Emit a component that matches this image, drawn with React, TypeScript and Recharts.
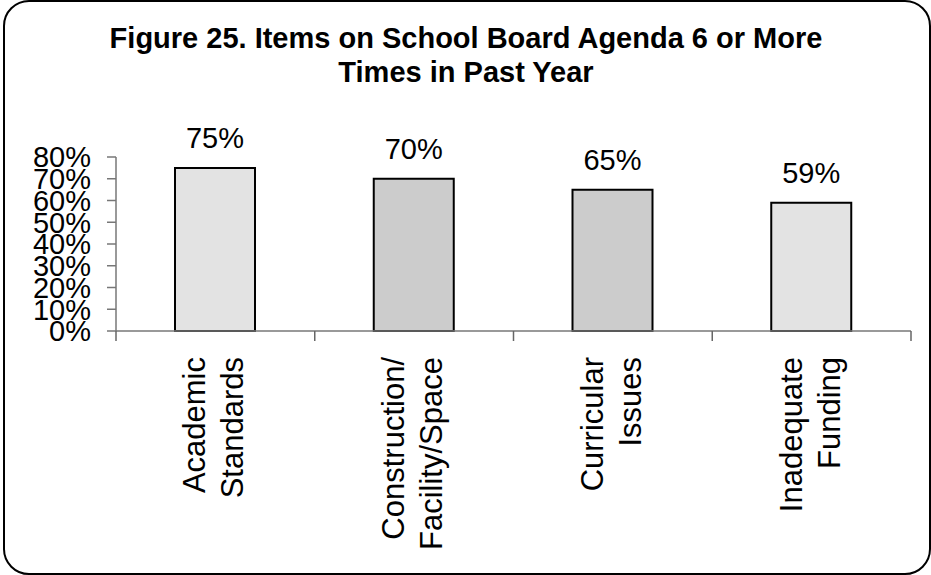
import React from "react";
import { BarChart, Bar, XAxis, YAxis, Cell, LabelList } from "recharts";

const categories = ["Academic Standards", "Construction/ Facility/Space", "Curricular Issues", "Inadequate Funding"];
const labelLines = [
  ["Academic", "Standards"],
  ["Construction/", "Facility/Space"],
  ["Curricular", "Issues"],
  ["Inadequate", "Funding"],
];
const percentages = [75, 70, 65, 59];
const yTicks = [0, 10, 20, 30, 40, 50, 60, 70, 80];
const barFills = ["#e3e3e3", "#cccccc", "#cccccc", "#e3e3e3"];

const FONT = '"Liberation Sans", Arial, sans-serif';

const data = categories.map((name, i) => ({ name, value: percentages[i] }));

// Rotated two-line label, plus tick marks on the category boundaries (Excel style)
function CategoryTick(props: any) {
  const { x, y, payload } = props;
  const lines = labelLines[payload.index] ?? [String(payload.value)];
  const half = payload.offset ?? 0;
  const isLast = payload.index === categories.length - 1;
  return (
    <g>
      <line x1={x - half} x2={x - half} y1={y} y2={y + 10} stroke="#666" strokeWidth={1.5} />
      {isLast && <line x1={x + half} x2={x + half} y1={y} y2={y + 10} stroke="#666" strokeWidth={1.5} />}
      <g transform={`translate(${x},${y})`}>
        <text transform="rotate(-90)" textAnchor="end" fontSize={31} fontFamily={FONT} fill="#000">
          <tspan x={-26} y={-10}>{lines[0]}</tspan>
          {lines[1] && <tspan x={-26} y={28}>{lines[1]}</tspan>}
        </text>
      </g>
    </g>
  );
}

export default function App() {
  return (
    <div style={{ position: "absolute", left: 0, top: 0, width: 931, height: 575, background: "#fff" }}>
      <div
        style={{
          position: "absolute",
          left: 3,
          top: 0,
          width: 928,
          height: 575,
          boxSizing: "border-box",
          border: "2.5px solid #000",
          borderRadius: 26,
        }}
      />
      <div
        style={{
          position: "absolute",
          left: 0,
          top: 21,
          width: 932,
          textAlign: "center",
          fontFamily: FONT,
          fontWeight: "bold",
          fontSize: 29,
          lineHeight: "34px",
          color: "#000",
        }}
      >
        Figure 25. Items on School Board Agenda 6 or More
        <br />
        Times in Past Year
      </div>
      <div style={{ position: "absolute", left: 0, top: 0 }}>
        <BarChart width={931} height={575} data={data} margin={{ top: 157, right: 20, bottom: 0, left: 0 }}>
          <XAxis
            dataKey="name"
            interval={0}
            tickLine={false}
            tickSize={0}
            tickMargin={0}
            height={244}
            axisLine={{ stroke: "#777", strokeWidth: 1.5 }}
            tick={<CategoryTick />}
          />
          <YAxis
            width={116}
            domain={[0, 80]}
            ticks={yTicks}
            interval={0}
            tickSize={9}
            tickMargin={16}
            tickFormatter={(v: number) => `${v}%`}
            tick={{ fontSize: 29, fill: "#000", fontFamily: FONT }}
            axisLine={{ stroke: "#777", strokeWidth: 1.5 }}
            tickLine={{ stroke: "#777", strokeWidth: 1.5 }}
          />
          <Bar dataKey="value" barSize={80} stroke="#000" strokeWidth={2} isAnimationActive={false}>
            {data.map((d, i) => (
              <Cell key={d.name} fill={barFills[i]} />
            ))}
            <LabelList
              dataKey="value"
              position="top"
              offset={20}
              formatter={(v: any) => `${v}%`}
              fill="#000"
              fontSize={29}
              fontFamily={FONT}
            />
          </Bar>
        </BarChart>
      </div>
    </div>
  );
}
